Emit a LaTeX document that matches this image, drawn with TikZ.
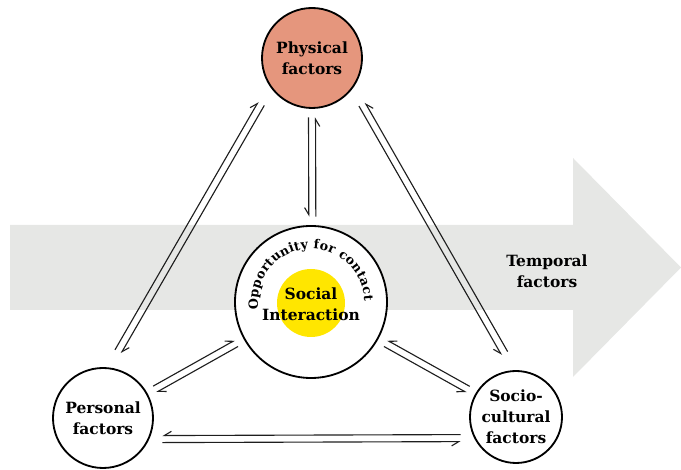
\documentclass[tikz,border=0pt]{standalone}
\usepackage{fontspec}
\setmainfont{DejaVu Serif}
\usetikzlibrary{arrows.meta, calc, decorations.text}

\definecolor{PhysSalmon}{HTML}{E5967D}
\definecolor{SocialYellow}{HTML}{FFE600}
\definecolor{TimeGray}{HTML}{E6E7E5}
\definecolor{LinkGray}{HTML}{1E1E1E}

\tikzset{
    % circles for the factors
    factor/.style={
        circle,
        draw=black,
        line width=1.3pt,
        fill=white,
        minimum size=2.5cm,
        inner sep=0pt,
        align=center,
        font=\fontsize{11}{15}\selectfont\bfseries
    },
    label text/.style={
        align=center,
        font=\fontsize{11}{15}\selectfont\bfseries
    },
    % thin lines of a two-way link
    link/.style={
        line width=0.8pt,
        draw=LinkGray,
        shorten <=6pt,
        shorten >=6pt
    }
}

% two parallel harpoons between two nodes
% [options]{from}{to}{outward offset}{half gap}{barb side}
\newcommand{\pairlink}[6][]{%
    \draw[link, #1, -{Straight Barb[#6, length=5pt, width=6pt]}]
        let \p1=($(#3)-(#2)$), \n1={atan2(\y1,\x1)}, \n2={\n1+180} in
        ([shift={({\n1-90}:{#4+(#5)})}]#2.\n1) -- ([shift={({\n1-90}:{#4+(#5)})}]#3.\n2);
    \draw[link, #1, -{Straight Barb[#6, length=5pt, width=6pt]}]
        let \p1=($(#3)-(#2)$), \n1={atan2(\y1,\x1)}, \n2={\n1+180} in
        ([shift={({\n1-90}:{#4-(#5)})}]#3.\n2) -- ([shift={({\n1-90}:{#4-(#5)})}]#2.\n1);
}

\begin{document}
\begin{tikzpicture}
    \useasboundingbox (0,0) rectangle (17.025,11.75);

    % Temporal arrow in the background
    \fill[TimeGray] (0.25,4.0) -- (14.325,4.0) -- (14.325,2.325) -- (17.025,5.0625)
        -- (14.325,7.8) -- (14.325,6.125) -- (0.25,6.125) -- cycle;
    \node[label text] (temporal) at (13.675,4.975) {Temporal\\factors};

    % Factor nodes
    \node[factor, fill=PhysSalmon] (phys) at (7.8,10.3) {Physical\\factors};
    \node[factor] (pers) at (2.575,1.3) {Personal\\factors};
    \node[factor, minimum size=2.3cm] (socio) at (12.9,1.325) {Socio-\\cultural\\factors};

    % Centre: opportunity and interaction
    \node[factor, minimum size=3.8cm] (centre) at (7.775,4.2) {};
    \node[circle, fill=SocialYellow, minimum size=1.7cm, inner sep=0pt] (dot) at (7.775,4.175) {};
    \node[label text] (social) at (7.775,4.15) {Social\\Interaction};
    \path[decorate, decoration={text along path, text align={fit to path},
        text={|\fontsize{9}{10}\selectfont\bfseries|Opportunity for contact}}]
        ([shift={(188:1.33cm)}]centre.center) arc[start angle=188, end angle=1, radius=1.33cm];

    % Links
    \pairlink[shorten <=10pt, shorten >=10pt]{phys}{pers}{15pt}{-2.5pt}{left}
    \pairlink[shorten <=10pt, shorten >=10pt]{socio}{phys}{15pt}{2.5pt}{right}
    \pairlink{pers}{socio}{15pt}{2.5pt}{right}
    \pairlink{phys}{centre}{0pt}{2.5pt}{right}
    \pairlink{pers}{centre}{0pt}{-2.5pt}{left}
    \pairlink{centre}{socio}{0pt}{2.5pt}{right}
\end{tikzpicture}
\end{document}
